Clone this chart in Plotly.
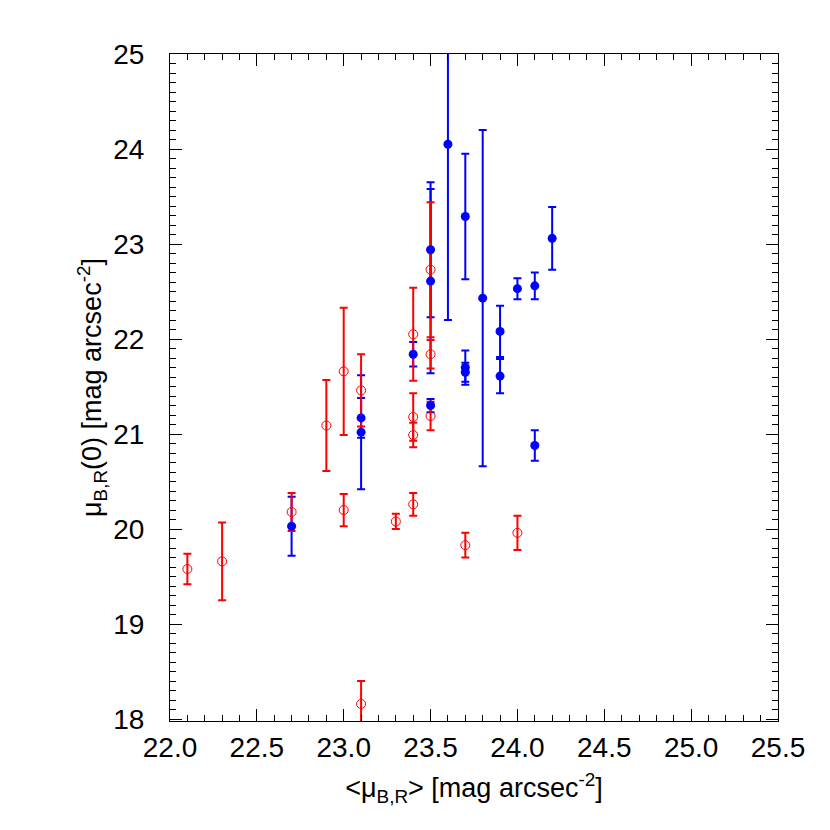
import plotly.graph_objects as go

# open red circles
x_red = [22.1, 22.3, 22.7, 22.9, 23.0, 23.0, 23.1, 23.1, 23.3, 23.4, 23.4, 23.4, 23.4, 23.5, 23.5, 23.5, 23.7, 24.0]
y_red = [19.58, 19.66, 20.18, 21.09, 21.66, 20.20, 21.46, 18.16, 20.08, 22.05, 21.18, 20.99, 20.26, 22.73, 21.84, 21.19, 19.83, 19.96]
e_red = [0.16, 0.41, 0.20, 0.48, 0.67, 0.17, 0.38, 0.24, 0.08, 0.49, 0.25, 0.13, 0.12, 0.71, 0.15, 0.15, 0.13, 0.18]

# filled blue circles
x_blue = [22.7, 23.1, 23.1, 23.4, 23.5, 23.5, 23.5, 23.6, 23.7, 23.7, 23.7, 23.8, 23.9, 23.9, 24.0, 24.1, 24.1, 24.2]
y_blue = [20.03, 21.17, 21.02, 21.84, 22.94, 22.61, 21.30, 24.05, 23.29, 21.70, 21.65, 22.43, 22.08, 21.61, 22.53, 22.56, 20.88, 23.06]
e_blue = [0.31, 0.21, 0.60, 0.13, 0.71, 0.97, 0.07, 1.85, 0.66, 0.18, 0.10, 1.77, 0.27, 0.18, 0.11, 0.14, 0.16, 0.33]

RED = "#ff0000"
BLUE = "#0000ff"
FONT = "Liberation Sans, Arial, Helvetica, sans-serif"

fig = go.Figure()

# error bars first (blue under red), markers on top
for xs, ys, es, col in [(x_blue, y_blue, e_blue, BLUE), (x_red, y_red, e_red, RED)]:
    fig.add_trace(go.Scatter(
        x=xs, y=ys, mode="markers",
        marker=dict(size=1, color="rgba(0,0,0,0)"),
        error_y=dict(type="data", array=es, visible=True, color=col, thickness=2, width=4),
        showlegend=False, hoverinfo="skip",
    ))

fig.add_trace(go.Scatter(
    x=x_blue, y=y_blue, mode="markers",
    marker=dict(symbol="circle", size=9, color=BLUE, line=dict(width=0)),
    showlegend=False,
))
fig.add_trace(go.Scatter(
    x=x_red, y=y_red, mode="markers",
    marker=dict(symbol="circle-open", size=9, color=RED, line=dict(width=1, color=RED)),
    showlegend=False,
))

axis_common = dict(
    showline=True, linecolor="black", linewidth=1, mirror="ticks",
    ticks="inside", ticklen=12, tickwidth=1, tickcolor="black",
    showgrid=False, zeroline=False,
    tickfont=dict(family=FONT, size=28, color="black"),
)

fig.update_xaxes(
    range=[22.0, 25.5], dtick=0.5, tick0=22.0, tickformat=".1f",
    minor=dict(dtick=0.1, ticks="inside", ticklen=6, tickcolor="black", tickwidth=1),
    title=dict(text="&lt;μ<sub>B,R</sub>&gt; [mag arcsec<sup>-2</sup>]",
               font=dict(family=FONT, size=27, color="black"), standoff=16),
    ticklabelstandoff=1,
    **axis_common,
)
fig.update_yaxes(
    range=[17.98, 25.0], dtick=1, tick0=18,
    minor=dict(dtick=0.1, ticks="inside", ticklen=6, tickcolor="black", tickwidth=1),
    title=dict(text="μ<sub>B,R</sub>(0) [mag arcsec<sup>-2</sup>]",
               font=dict(family=FONT, size=27, color="black"), standoff=3),
    ticklabelstandoff=19,
    **axis_common,
)

fig.update_layout(
    width=830, height=830,
    margin=dict(l=162, r=60, t=46, b=117),
    plot_bgcolor="white", paper_bgcolor="white",
    font=dict(family=FONT, color="black"),
)

fig.write_html("out.html")
